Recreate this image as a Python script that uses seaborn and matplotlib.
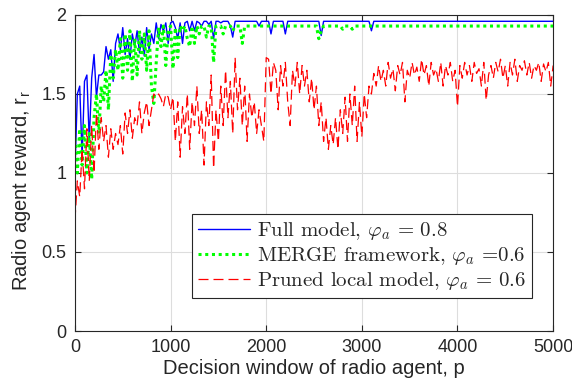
"""
Radio agent reward vs decision window (Full model / MERGE / Pruned local model)
"""
import numpy as np
import pandas as pd
import matplotlib
matplotlib.use("Agg")
import matplotlib.pyplot as plt
import seaborn as sns

# decision window p, every 25 steps from 0 to 5000
window = np.arange(0, 5001, 25)

full_model = [
    1.00, 1.50, 1.55, 1.10, 1.58, 1.62, 1.20, 1.60, 1.75, 1.48,
    1.62, 1.62, 1.64, 1.80, 1.72, 1.78, 1.58, 1.82, 1.88, 1.78,
    1.92, 1.75, 1.85, 1.72, 1.88, 1.80, 1.90, 1.76, 1.86, 1.74,
    1.92, 1.78, 1.88, 1.82, 1.95, 1.85, 1.94, 1.90, 1.95, 1.82,
    1.95, 1.96, 1.92, 1.85, 1.95, 1.82, 1.95, 1.96, 1.90, 1.96,
    1.90, 1.96, 1.95, 1.93, 1.96, 1.96, 1.94, 1.96, 1.85, 1.96,
    1.96, 1.95, 1.96, 1.96, 1.96, 1.93, 1.86, 1.96, 1.96, 1.96,
    1.96, 1.96, 1.96, 1.96, 1.96, 1.96, 1.96, 1.93, 1.96, 1.96,
    1.96, 1.96, 1.88, 1.96, 1.96, 1.96, 1.96, 1.96, 1.88, 1.96,
    1.96, 1.96, 1.96, 1.96, 1.96, 1.96, 1.96, 1.96, 1.96, 1.96,
    1.96, 1.96, 1.96, 1.87, 1.96, 1.96, 1.96, 1.96, 1.96, 1.96,
    1.96, 1.96, 1.96, 1.96, 1.96, 1.96, 1.96, 1.96, 1.96, 1.96,
    1.96, 1.96, 1.96, 1.96, 1.90, 1.96, 1.96, 1.96, 1.96, 1.96,
    1.96, 1.96, 1.96, 1.96, 1.96, 1.96, 1.96, 1.96, 1.96, 1.96,
    1.96, 1.96, 1.96, 1.96, 1.96, 1.96, 1.96, 1.96, 1.96, 1.96,
    1.96, 1.96, 1.96, 1.96, 1.96, 1.96, 1.96, 1.96, 1.96, 1.96,
    1.96, 1.96, 1.96, 1.96, 1.96, 1.96, 1.96, 1.96, 1.96, 1.96,
    1.96, 1.96, 1.96, 1.96, 1.96, 1.96, 1.96, 1.96, 1.96, 1.96,
    1.96, 1.96, 1.96, 1.96, 1.96, 1.96, 1.96, 1.96, 1.96, 1.96,
    1.96, 1.96, 1.96, 1.96, 1.96, 1.96, 1.96, 1.96, 1.96, 1.96,
    1.96,
]

merge_framework = [
    1.22, 1.00, 1.28, 1.05, 1.30, 1.00, 1.25, 0.96, 1.35, 1.50,
    1.25, 1.55, 1.45, 1.65, 1.40, 1.75, 1.60, 1.78, 1.65, 1.85,
    1.60, 1.88, 1.65, 1.90, 1.58, 1.85, 1.62, 1.90, 1.72, 1.88,
    1.65, 1.90, 1.55, 1.44, 1.70, 1.92, 1.80, 1.93, 1.68, 1.90,
    1.93, 1.66, 1.92, 1.73, 1.93, 1.90, 1.93, 1.85, 1.80, 1.93,
    1.82, 1.93, 1.88, 1.93, 1.93, 1.86, 1.93, 1.93, 1.70, 1.93,
    1.93, 1.93, 1.88, 1.93, 1.93, 1.93, 1.90, 1.93, 1.93, 1.93,
    1.82, 1.93, 1.93, 1.93, 1.93, 1.93, 1.93, 1.93, 1.93, 1.93,
    1.93, 1.93, 1.93, 1.93, 1.93, 1.93, 1.93, 1.93, 1.93, 1.93,
    1.93, 1.93, 1.93, 1.93, 1.93, 1.93, 1.93, 1.93, 1.93, 1.93,
    1.93, 1.93, 1.85, 1.90, 1.93, 1.93, 1.93, 1.93, 1.93, 1.93,
    1.93, 1.93, 1.91, 1.93, 1.93, 1.93, 1.91, 1.93, 1.93, 1.93,
    1.93, 1.93, 1.93, 1.93, 1.93, 1.93, 1.93, 1.93, 1.93, 1.93,
    1.93, 1.93, 1.93, 1.93, 1.93, 1.93, 1.93, 1.93, 1.93, 1.93,
    1.93, 1.93, 1.93, 1.93, 1.93, 1.93, 1.93, 1.93, 1.93, 1.93,
    1.93, 1.93, 1.93, 1.93, 1.93, 1.93, 1.93, 1.93, 1.93, 1.93,
    1.93, 1.93, 1.93, 1.93, 1.93, 1.93, 1.93, 1.93, 1.93, 1.93,
    1.93, 1.93, 1.93, 1.93, 1.93, 1.93, 1.93, 1.93, 1.93, 1.93,
    1.93, 1.93, 1.93, 1.93, 1.93, 1.93, 1.93, 1.93, 1.93, 1.93,
    1.93, 1.93, 1.93, 1.93, 1.93, 1.93, 1.93, 1.93, 1.93, 1.93,
    1.93,
]

pruned_local = [
    0.70, 0.95, 0.85, 1.15, 0.90, 1.28, 0.95, 1.30, 1.00, 1.38,
    1.15, 1.35, 1.20, 1.30, 1.10, 1.28, 1.15, 1.25, 1.18, 1.30,
    1.12, 1.38, 1.25, 1.40, 1.22, 1.35, 1.30, 1.45, 1.25, 1.38,
    1.45, 1.30, 1.40, 1.50, 1.48, 1.50, 1.47, 1.42, 1.50, 1.48,
    1.40, 1.48, 1.20, 1.45, 1.10, 1.42, 1.25, 1.50, 1.15, 1.45,
    1.30, 1.55, 1.25, 1.40, 1.05, 1.45, 1.30, 1.62, 1.03, 1.40,
    1.20, 1.55, 1.30, 1.65, 1.35, 1.58, 1.25, 1.73, 1.40, 1.60,
    1.30, 1.55, 1.20, 1.50, 1.35, 1.45, 1.25, 1.40, 1.30, 1.20,
    1.73, 1.72, 1.50, 1.70, 1.65, 1.40, 1.68, 1.55, 1.70, 1.45,
    1.30, 1.65, 1.55, 1.70, 1.50, 1.68, 1.55, 1.65, 1.45, 1.60,
    1.40, 1.55, 1.30, 1.45, 1.20, 1.35, 1.15, 1.30, 1.18, 1.35,
    1.15, 1.40, 1.25, 1.48, 1.20, 1.50, 1.30, 1.55, 1.20, 1.45,
    1.23, 1.50, 1.35, 1.55, 1.50, 1.63, 1.55, 1.68, 1.58, 1.65,
    1.55, 1.70, 1.60, 1.66, 1.52, 1.68, 1.62, 1.70, 1.45, 1.65,
    1.60, 1.70, 1.62, 1.67, 1.58, 1.72, 1.62, 1.68, 1.55, 1.70,
    1.62, 1.66, 1.58, 1.70, 1.55, 1.68, 1.62, 1.70, 1.58, 1.65,
    1.42, 1.68, 1.60, 1.70, 1.62, 1.68, 1.58, 1.70, 1.63, 1.66,
    1.55, 1.70, 1.46, 1.62, 1.68, 1.60, 1.70, 1.64, 1.72, 1.60,
    1.68, 1.55, 1.70, 1.62, 1.72, 1.58, 1.68, 1.65, 1.71, 1.62,
    1.70, 1.60, 1.68, 1.65, 1.70, 1.58, 1.69, 1.64, 1.70, 1.55,
    1.68,
]

labels = [
    r"Full model, $\varphi_a\, =\, 0.8$",
    r"MERGE framework, $\varphi_a$ =0.6",
    r"Pruned local model, $\varphi_a\, =\, 0.6$",
]
colors = ["#0000ff", "#00ff00", "#ff0000"]

sns.set_style("ticks")
plt.rcParams["font.family"] = ["Liberation Sans", "DejaVu Sans"]
plt.rcParams["mathtext.fontset"] = "cm"

fig = plt.figure(figsize=(5.72, 3.84), dpi=100)
ax = fig.add_axes([0.131, 0.138, 0.836, 0.823])

sns.lineplot(x=window, y=full_model, ax=ax, color=colors[0], lw=1.0, label=labels[0])
sns.lineplot(x=window, y=merge_framework, ax=ax, color=colors[1], lw=2.2,
             linestyle=(0, (1, 1.2)), label=labels[1])
sns.lineplot(x=window, y=pruned_local, ax=ax, color=colors[2], lw=0.9,
             linestyle=(0, (8, 4)), label=labels[2])

ax.set_xlim(0, 5000)
ax.set_ylim(0, 2)
ax.set_xticks([0, 1000, 2000, 3000, 4000, 5000])
ax.set_yticks([0, 0.5, 1, 1.5, 2])
ax.set_yticklabels(["0", "0.5", "1", "1.5", "2"])
ax.grid(True, color="#dddddd", lw=0.8)
ax.set_axisbelow(True)
ax.tick_params(direction="in", length=4, labelsize=13, top=True, right=True,
               labeltop=False, labelright=False, color="#262626")
ax.tick_params(axis="x", pad=6)
ax.tick_params(axis="y", pad=6)
for s in ax.spines.values():
    s.set_color("#262626")
    s.set_linewidth(0.8)

ax.set_xlabel("Decision window of radio agent, p", fontsize=14.5, labelpad=2)
ax.set_ylabel(r"Radio agent reward, r$_{\mathregular{r}}$", fontsize=14.5, labelpad=6)
ax.yaxis.label.set_y(0.445)

leg = ax.legend(loc="lower right", bbox_to_anchor=(0.955, 0.104), borderaxespad=0,
                fancybox=False, framealpha=1, edgecolor="#262626", handlelength=2.5,
                borderpad=0.3, labelspacing=0.14, handletextpad=0.3,
                prop={"family": "cmr10", "size": 15})
leg.get_frame().set_linewidth(0.8)

fig.savefig("out.png", dpi=100)
